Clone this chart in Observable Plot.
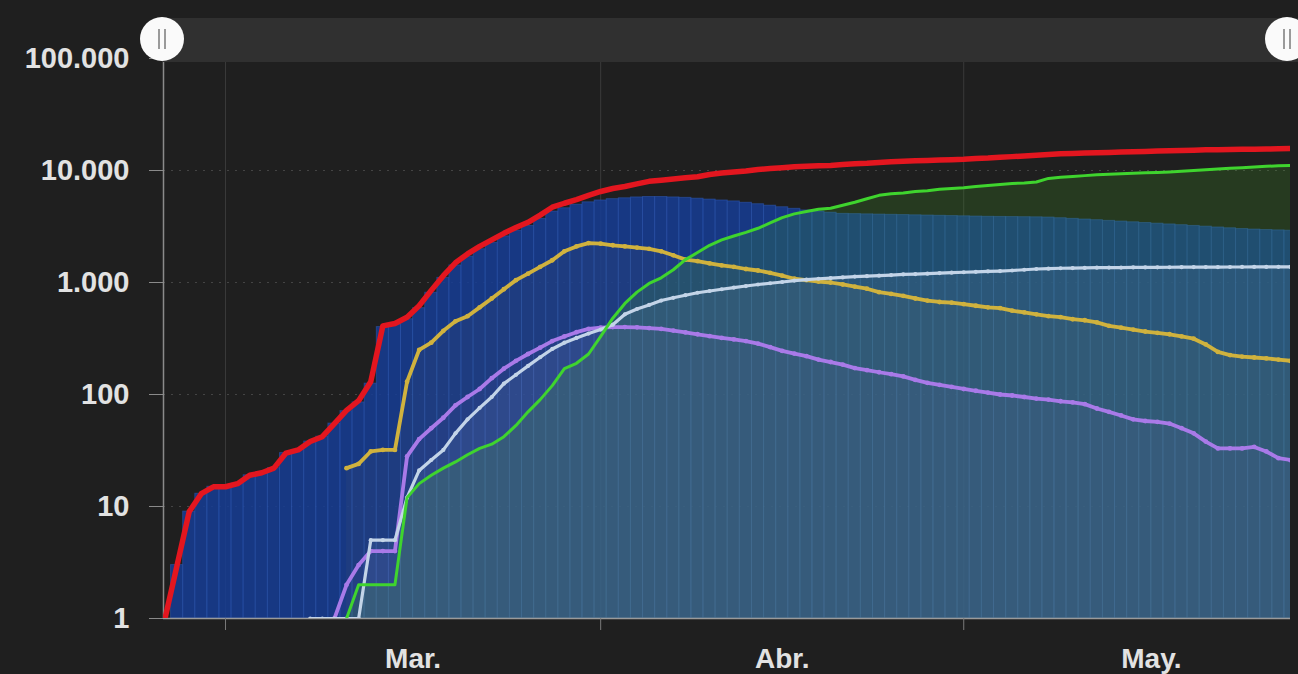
<!DOCTYPE html>
<html>
<head>
<meta charset="utf-8">
<script src="https://cdn.jsdelivr.net/npm/d3@7"></script>
<script src="https://cdn.jsdelivr.net/npm/@observablehq/plot@0.6"></script>
<style>
  html, body { margin: 0; padding: 0; background: #1f1f1f; }
  #chart { position: relative; width: 1298px; height: 674px; overflow: hidden; background: #1f1f1f; }
  #chart svg { position: absolute; left: 0; top: 0; }
  .band { position: absolute; left: 163px; top: 18px; width: 1135px; height: 44px; background: #303030; }
  .handle { position: absolute; top: 17px; width: 44px; height: 44px; border-radius: 50%; background: #fafafa; }
  .handle::before, .handle::after { content: ""; position: absolute; top: 12px; width: 2px; height: 20px; background: #9a9a9a; }
  .handle::before { left: 18px; }
  .handle::after { left: 24px; }
</style>
</head>
<body>
<div id="chart">
  <div class="band"></div>
  <div class="handle" style="left:140px"></div>
  <div class="handle" style="left:1265px"></div>
</div>
<script>
// ---- data (daily, starting 2020-02-25) ----
const startDate = "2020-02-25";

// confirmed (red line)
const confirmed = [
  1, 3, 9, 13, 15,
  15, 16, 19, 20, 22, 30, 32, 38, 42, 55, 72, 88, 130, 410, 430, 490, 620, 850, 1150, 1500, 1800, 2100, 2400, 2750, 3100, 3450, 4000, 4700, 5100, 5500, 6000,
  6500, 6900, 7200, 7600, 8000, 8200, 8400, 8600, 8800, 9200, 9500, 9700, 9900, 10200, 10400, 10600, 10800, 10900, 11000, 11100, 11300, 11500, 11600, 11800, 12000, 12100, 12200, 12300, 12400, 12500,
  12600, 12800, 12900, 13100, 13300, 13500, 13700, 13900, 14100, 14200, 14300, 14400, 14500, 14600, 14700, 14800, 14900, 15000, 15100, 15200, 15300, 15350, 15400, 15450, 15500, 15550, 15600, 15700
];

// active cases (blue columns)
const active = [
  1, 3, 9, 13, 15,
  15, 16, 19, 20, 22, 30, 32, 38, 42, 55, 71, 85, 125, 400, 420, 470, 590, 810, 1100, 1420, 1700, 1980, 2260, 2580, 2900, 3200, 3700, 4300, 4600, 4950, 5200,
  5400, 5550, 5650, 5750, 5800, 5800, 5750, 5700, 5600, 5500, 5400, 5300, 5150, 5000, 4850, 4700, 4550, 4400, 4300, 4200, 4100, 4080, 4060, 4040, 4020, 4000, 3980, 3960, 3940, 3920,
  3900, 3880, 3860, 3850, 3840, 3830, 3820, 3800, 3750, 3700, 3650, 3600, 3550, 3500, 3450, 3400, 3350, 3300, 3250, 3200, 3150, 3100, 3050, 3000, 2970, 2940, 2920, 2900
];

// recovered (green line)
const recovered = [
  null, null, null, null, null,
  null, null, null, null, null, null, null, null, null, null, 1, 2, 2, 2, 2, 12, 16, 19, 22, 25, 29, 33, 36, 42, 53, 70, 90, 120, 170, 190, 230,
  330, 480, 650, 820, 980, 1100, 1300, 1600, 1850, 2150, 2400, 2600, 2800, 3050, 3400, 3800, 4100, 4300, 4500, 4600, 4900, 5200, 5600, 6000, 6200, 6300, 6500, 6600, 6800, 6900,
  7000, 7200, 7350, 7500, 7650, 7750, 7900, 8500, 8700, 8850, 9000, 9150, 9250, 9350, 9450, 9550, 9600, 9700, 9850, 10000, 10150, 10300, 10450, 10600, 10750, 10900, 11000, 11100
];

// hospitalised (yellow line)
const hospitalized = [
  null, null, null, null, null,
  null, null, null, null, null, null, null, null, null, null, 22, 24, 31, 32, 32, 130, 250, 290, 370, 450, 500, 600, 720, 870, 1050, 1200, 1380, 1580, 1900, 2100, 2250,
  2220, 2150, 2100, 2050, 2000, 1900, 1750, 1600, 1550, 1480, 1420, 1380, 1320, 1280, 1220, 1150, 1080, 1050, 1020, 1000, 960, 920, 880, 820, 790, 760, 720, 690, 670, 660,
  640, 620, 600, 590, 560, 540, 520, 500, 490, 470, 460, 440, 410, 395, 380, 365, 355, 345, 330, 315, 280, 240, 225, 218, 214, 210, 205, 200
];

// deaths (light blue line)
const deaths = [
  null, null, null, null, null,
  null, null, null, null, null, null, null, 1, 1, 1, 1, 1, 5, 5, 5, 12, 21, 26, 32, 45, 60, 76, 95, 125, 150, 180, 215, 255, 290, 320, 350,
  380, 420, 520, 580, 630, 690, 730, 770, 810, 840, 870, 900, 930, 960, 985, 1010, 1040, 1060, 1080, 1095, 1110, 1130, 1140, 1150, 1165, 1180, 1190, 1200, 1215, 1225,
  1235, 1245, 1255, 1265, 1280, 1300, 1320, 1330, 1340, 1345, 1350, 1355, 1358, 1360, 1362, 1364, 1366, 1368, 1370, 1372, 1373, 1374, 1375, 1376, 1377, 1378, 1379, 1380
];

// intensive care (purple line)
const icu = [
  null, null, null, null, null,
  null, null, null, null, null, null, null, null, null, 1, 2, 3, 4, 4, 4, 28, 40, 50, 62, 80, 95, 112, 140, 170, 200, 230, 262, 300, 330, 360, 385,
  395, 400, 400, 398, 392, 385, 372, 358, 345, 332, 320, 310, 300, 285, 265, 245, 232, 220, 205, 195, 185, 172, 165, 158, 152, 145, 135, 127, 122, 117,
  112, 108, 104, 100, 98, 95, 92, 90, 87, 85, 82, 75, 70, 65, 60, 58, 57, 55, 50, 45, 38, 33, 33, 33, 34, 31, 27, 26
];

// axis ticks
const yTicks = [1, 10, 100, 1000, 10000, 100000];
const yTickLabels = ["1", "10", "100", "1.000", "10.000", "100.000"];
const monthStarts = ["2020-03-01", "2020-04-01", "2020-05-01", "2020-06-01"];
const monthLabels = ["Mar.", "Abr.", "May."];

// ---- build table ----
const start = new Date(startDate + "T00:00:00Z");
const rows = confirmed.map((v, i) => {
  const date = d3.utcDay.offset(start, i);
  return {
    date,
    left: d3.utcHour.offset(date, -12),
    right: d3.utcHour.offset(date, 12),
    confirmed: v, active: active[i], recovered: recovered[i],
    hospitalized: hospitalized[i], deaths: deaths[i], icu: icu[i]
  };
});
const mStarts = monthStarts.map(s => new Date(s + "T00:00:00Z"));
const labelDates = monthLabels.map((_, i) => new Date((+mStarts[i] + +mStarts[i + 1]) / 2));
const labelOf = new Map(yTicks.map((t, i) => [t, yTickLabels[i]]));

const xDomain = [new Date(Date.UTC(2020, 1, 24, 21)), new Date(Date.UTC(2020, 4, 28, 0))];

const C = {
  red: "#e3161f", green: "#3fd42e", yellow: "#d0b23e", white: "#c3d4e8", purple: "#a97ae8"
};

const seriesLine = (key, color, w, dots) => {
  const def = rows.filter(d => d[key] != null);
  const marks = [Plot.lineY(rows, {x: "date", y: key, stroke: color, strokeWidth: w, curve: "linear", strokeLinejoin: "round", clip: true})];
  if (dots) marks.push(Plot.dot(def, {x: "date", y: key, r: dots, fill: color, clip: true}));
  return marks;
};

const chart = Plot.plot({
  width: 1298,
  height: 674,
  marginLeft: 163,
  marginRight: 8,
  marginTop: 58,
  marginBottom: 56,
  style: {background: "transparent", fontFamily: "'Liberation Sans', Arial, sans-serif", color: "#e0e0e0"},
  x: {type: "utc", domain: xDomain, axis: null},
  y: {type: "log", domain: [1, 100000], axis: null},
  marks: [
    // grid
    Plot.gridY({ticks: yTicks.slice(1, 5), stroke: "#6a6a6a", strokeOpacity: 0.5, strokeDasharray: "2,6"}),
    Plot.gridX({ticks: mStarts.slice(0, 3), stroke: "#3a3a3a", strokeOpacity: 1}),
    // active columns
    Plot.rectY(rows, {x1: "left", x2: "right", y1: 1, y2: "active", fill: "#173c92", fillOpacity: 0.88,
      stroke: "#2f5cb8", strokeOpacity: 0.5, strokeWidth: 1, clip: true}),
    // translucent areas
    Plot.areaY(rows, {x: "date", y1: 1, y2: "recovered", fill: "#48a82a", fillOpacity: 0.2, clip: true}),
    Plot.areaY(rows, {x: "date", y1: 1, y2: "deaths", fill: "#b8cce0", fillOpacity: 0.08, clip: true}),
    Plot.areaY(rows, {x: "date", y1: 1, y2: "hospitalized", fill: "#d0b040", fillOpacity: 0.04, clip: true}),
    Plot.areaY(rows, {x: "date", y1: 1, y2: "icu", fill: "#a070e0", fillOpacity: 0.05, clip: true}),
    // frame lines
    Plot.ruleY([1], {stroke: "#9a9a9a", strokeWidth: 1.5}),
    Plot.ruleX([xDomain[0]], {stroke: "#8a8a8a", strokeWidth: 1.5}),
    // series lines
    ...seriesLine("icu", C.purple, 3.8, 2.4),
    ...seriesLine("hospitalized", C.yellow, 3.8, 2.4),
    ...seriesLine("deaths", C.white, 3.2, 2.1),
    ...seriesLine("recovered", C.green, 3, 0),
    ...seriesLine("confirmed", C.red, 5.5, 0),
    // axes
    Plot.axisY({ticks: yTicks, tickFormat: d => labelOf.get(d), tickSize: 14, tickPadding: 20,
      fontSize: 29, fontWeight: "bold", fill: "#e2e2e2", stroke: "#8a8a8a"}),
    Plot.axisX({ticks: mStarts.slice(0, 3), tickFormat: () => "", tickSize: 12, stroke: "#7a7a7a"}),
    Plot.axisX({ticks: labelDates, tickFormat: (d, i) => monthLabels[i], tickSize: 0, tickPadding: 30,
      fontSize: 28, fontWeight: "bold", fill: "#e2e2e2"})
  ]
});

document.getElementById("chart").prepend(chart);
</script>
</body>
</html>
